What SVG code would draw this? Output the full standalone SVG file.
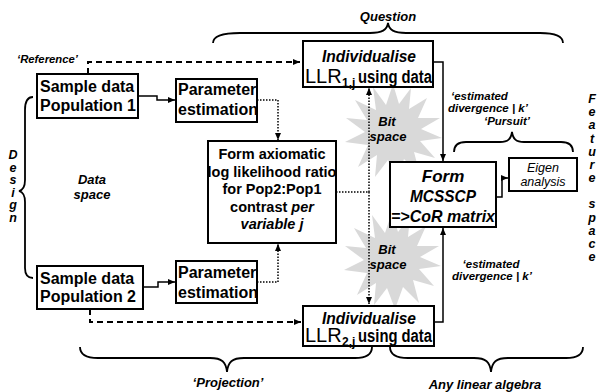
<svg xmlns="http://www.w3.org/2000/svg" width="600" height="392" viewBox="0 0 600 392">
<defs>
<style>
.box{fill:#fff;stroke:#000;stroke-width:2}
text{font-family:"Liberation Sans",Arial,sans-serif;fill:#000}
.b{font-weight:bold;font-size:16px}
.f{font-weight:bold;font-size:14.5px}
.it{font-style:italic;font-weight:bold;font-size:17px}
.lab{font-weight:bold;font-style:italic;font-size:11.5px}
.big{font-weight:bold;font-style:italic;font-size:13px}
.let{font-weight:bold;font-style:italic;font-size:12.5px}
.ln{fill:none;stroke:#000;stroke-width:1.5}
.dash{fill:none;stroke:#000;stroke-width:2;stroke-dasharray:6 4}
.dot{fill:none;stroke:#000;stroke-width:1.5;stroke-dasharray:1.5 1.5}
.brace{fill:none;stroke:#000;stroke-width:1.8}
.star{fill:#d9d9d9}
</style>
<marker id="ah" markerWidth="8" markerHeight="8" refX="7" refY="4" orient="auto" markerUnits="userSpaceOnUse"><path d="M0,1 L7,4 L0,7 z" fill="#000"/></marker>
<path id="starShape" d="M0,-48 L6,-28 L18,-44 L16,-23 L34,-34 L25,-14 L47,-14 L28,-3 L49,6 L27,9 L42,26 L21,20 L27,43 L11,27 L3,49 L-5,28 L-18,45 L-16,23 L-35,35 L-25,13 L-48,10 L-28,0 L-47,-14 L-26,-12 L-38,-32 L-17,-22 L-20,-45 L-7,-27 Z"/>
</defs>

<g id="stars">
<use href="#starShape" class="star" transform="translate(393,132)"/>
<use href="#starShape" class="star" transform="translate(392,260)"/>
</g>

<g id="braces">
<path class="brace" d="M213,43 C213,36 222,33 240,33 L370,33 C382,33 387,30 388,23 C389,30 394,33 406,33 L540,33 C556,33 563,36 563,43"/>
<path class="brace" d="M33,97 C28,97 25,101 25,110 L25,180 C25,187 23,190 19,191 C23,192 25,195 25,202 L25,268 C25,275 28,278 33,278"/>
<path class="brace" d="M454,152 C454,146 458,142 466,142 L500,142 C508,142 511,139 512,132 C513,139 516,142 524,142 L561,142 C569,142 573,146 573,152"/>
<path class="brace" d="M80,347 C80,354 86,358 98,358 L210,358 C222,358 226,362 227,372 C228,362 232,358 244,358 L355,358 C367,358 372,354 372,347"/>
<path class="brace" d="M390,347 C390,354 396,358 408,358 L474,358 C486,358 490,362 491,372 C492,362 496,358 508,358 L566,358 C578,358 583,354 583,347"/>
</g>

<g id="connectors">
<path class="dash" d="M88,74 V62 H300" marker-end="url(#ah)"/>
<path class="dash" d="M90,309 V322 H301" marker-end="url(#ah)"/>
<path class="ln" d="M138,96 H157 V100 H175" marker-end="url(#ah)"/>
<path class="ln" d="M143,287 H158 V282 H175" marker-end="url(#ah)"/>
<path class="dot" d="M257,100 H278 V140" marker-end="url(#ah)"/>
<path class="dot" d="M257,282 H278 V244" marker-end="url(#ah)"/>
<path class="dot" d="M336,192 H369"/>
<path class="dot" d="M369,192 V88" marker-end="url(#ah)"/>
<path class="dot" d="M369,192 V304" marker-end="url(#ah)"/>
<path class="ln" d="M433,62 H443 V161" marker-end="url(#ah)"/>
<path class="ln" d="M434,322 H443 V228" marker-end="url(#ah)"/>
<path class="ln" d="M496,197 H502 V178 H508" marker-end="url(#ah)"/>
</g>

<g id="sample1">
<rect class="box" x="37" y="74" width="101" height="44"/>
<text class="b" x="40" y="92">Sample data</text>
<text class="b" x="40" y="111">Population 1</text>
</g>
<g id="param1">
<rect class="box" x="176" y="79" width="81" height="43"/>
<text class="b" x="178" y="95">Parameter</text>
<text class="b" x="178" y="115">estimation</text>
</g>
<g id="sample2">
<rect class="box" x="37" y="266" width="106" height="43"/>
<text class="b" x="40" y="284">Sample data</text>
<text class="b" x="40" y="302">Population 2</text>
</g>
<g id="param2">
<rect class="box" x="176" y="261" width="81" height="42"/>
<text class="b" x="178" y="278">Parameter</text>
<text class="b" x="178" y="298">estimation</text>
</g>
<g id="llr1">
<rect class="box" x="303" y="41" width="130" height="46"/>
<text class="it" x="322" y="62" textLength="94" lengthAdjust="spacingAndGlyphs">Individualise</text>
<text x="305" y="83" font-size="20">LLR</text>
<text x="342" y="87" font-size="12" font-weight="bold">1,j</text>
<text x="358" y="83" font-size="18" font-weight="bold" textLength="74" lengthAdjust="spacingAndGlyphs">using data</text>
</g>
<g id="llr2">
<rect class="box" x="303" y="306" width="131" height="40"/>
<text class="it" x="322" y="324" textLength="94" lengthAdjust="spacingAndGlyphs">Individualise</text>
<text x="305" y="342" font-size="20">LLR</text>
<text x="342" y="346" font-size="12" font-weight="bold">2,j</text>
<text x="358" y="342" font-size="18" font-weight="bold" textLength="74" lengthAdjust="spacingAndGlyphs">using data</text>
</g>
<g id="axiomatic">
<rect class="box" x="208" y="141" width="128" height="102"/>
<text class="f" x="272" y="159" text-anchor="middle">Form axiomatic</text>
<text class="f" x="272" y="176.5" text-anchor="middle">log likelihood ratio</text>
<text class="f" x="272" y="194" text-anchor="middle">for Pop2:Pop1</text>
<text class="f" x="272" y="211.5" text-anchor="middle">contrast <tspan font-style="italic">per</tspan></text>
<text class="f" x="272" y="229" text-anchor="middle" font-style="italic">variable j</text>
</g>
<g id="mcsscp">
<rect class="box" x="390" y="162" width="106" height="65"/>
<text class="it" x="443" y="182" text-anchor="middle">Form</text>
<text class="it" x="443" y="202" text-anchor="middle" textLength="66" lengthAdjust="spacingAndGlyphs">MCSSCP</text>
<text class="it" x="391" y="222" textLength="104" lengthAdjust="spacingAndGlyphs">=&gt;CoR matrix</text>
</g>
<g id="eigen">
<rect class="box" x="509" y="158" width="68" height="33"/>
<text x="543" y="172" text-anchor="middle" font-style="italic" font-size="12.5">Eigen</text>
<text x="543" y="186" text-anchor="middle" font-style="italic" font-size="12.5">analysis</text>
</g>

<g id="labels">
<text class="lab" x="17" y="63" textLength="61" lengthAdjust="spacingAndGlyphs">‘Reference’</text>
<text class="big" x="388" y="21" text-anchor="middle">Question</text>
<text class="lab" x="451" y="100">‘estimated</text>
<text class="lab" x="448" y="112">divergence | k’</text>
<text class="lab" x="507" y="125" text-anchor="middle">‘Pursuit’</text>
<text class="big" x="387" y="126" text-anchor="middle">Bit</text>
<text class="big" x="388" y="141" text-anchor="middle">space</text>
<text class="big" x="387" y="254" text-anchor="middle">Bit</text>
<text class="big" x="388" y="269" text-anchor="middle">space</text>
<text class="big" x="92" y="184" text-anchor="middle">Data</text>
<text class="big" x="92" y="199" text-anchor="middle">space</text>
<text class="lab" x="491" y="268" text-anchor="middle">‘estimated</text>
<text class="lab" x="492" y="280" text-anchor="middle">divergence | k’</text>
<text class="big" x="228" y="387" text-anchor="middle">‘Projection’</text>
<text class="big" x="485" y="389" text-anchor="middle" font-size="14">Any linear algebra</text>
</g>

<g id="design">
<text class="let" text-anchor="middle"><tspan x="13" y="159">D</tspan><tspan x="13" y="171.5">e</tspan><tspan x="13" y="184">s</tspan><tspan x="13" y="196.5">i</tspan><tspan x="13" y="209">g</tspan><tspan x="13" y="221.5">n</tspan></text>
</g>
<g id="feature">
<text class="let" text-anchor="middle"><tspan x="592" y="103">F</tspan><tspan x="592" y="116">e</tspan><tspan x="592" y="129">a</tspan><tspan x="592" y="143">t</tspan><tspan x="592" y="156">u</tspan><tspan x="592" y="169">r</tspan><tspan x="592" y="182">e</tspan><tspan x="592" y="208">s</tspan><tspan x="592" y="222">p</tspan><tspan x="592" y="235">a</tspan><tspan x="592" y="248">c</tspan><tspan x="592" y="261">e</tspan></text>
</g>
</svg>
